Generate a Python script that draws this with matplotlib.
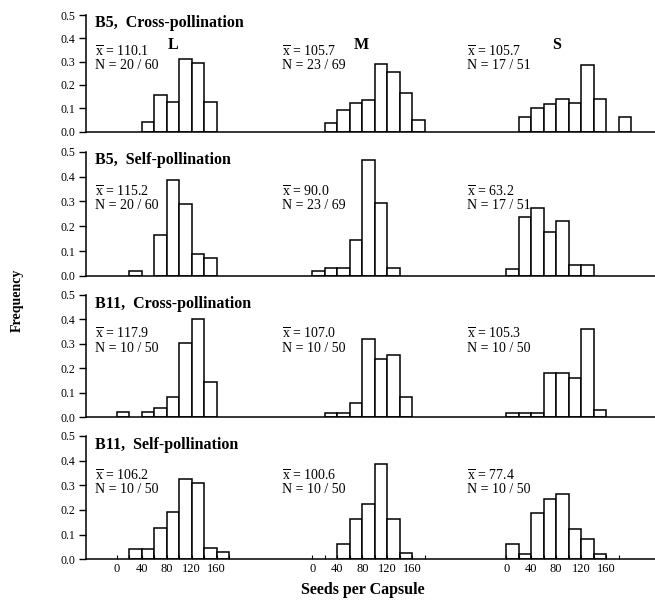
import numpy as np
import matplotlib
matplotlib.use("Agg")
import matplotlib.pyplot as plt

plt.rcParams['font.family'] = ['Liberation Serif', 'DejaVu Serif']
plt.rcParams['mathtext.fontset'] = 'custom'
plt.rcParams['mathtext.rm'] = 'Liberation Serif'
plt.rcParams['mathtext.it'] = 'Liberation Serif:italic'
plt.rcParams['mathtext.bf'] = 'Liberation Serif:bold'

# bins of 20 seeds: 0-20, 20-40, ..., 180-200
bin_left = np.arange(0, 200, 20)
bin_width = 20

groups = ["L", "M", "S"]
tick_values = [0, 40, 80, 120, 160]

row_titles = ["B5,  Cross-pollination", "B5,  Self-pollination",
              "B11,  Cross-pollination", "B11,  Self-pollination"]

b5_cross_L = [0, 0, 0.04, 0.155, 0.125, 0.31, 0.295, 0.125, 0, 0]
b5_cross_M = [0, 0.035, 0.093, 0.124, 0.136, 0.289, 0.257, 0.164, 0.05, 0]
b5_cross_S = [0, 0.061, 0.103, 0.119, 0.14, 0.121, 0.286, 0.14, 0, 0.061]

b5_self_L = [0, 0.02, 0, 0.165, 0.386, 0.288, 0.087, 0.071, 0, 0]
b5_self_M = [0.02, 0.034, 0.034, 0.145, 0.466, 0.292, 0.034, 0, 0, 0]
b5_self_S = [0.027, 0.237, 0.272, 0.177, 0.221, 0.044, 0.044, 0, 0, 0]

b11_cross_L = [0.02, 0, 0.02, 0.038, 0.083, 0.303, 0.402, 0.144, 0, 0]
b11_cross_M = [0, 0.018, 0.018, 0.058, 0.32, 0.239, 0.255, 0.083, 0, 0]
b11_cross_S = [0.018, 0.018, 0.018, 0.18, 0.18, 0.16, 0.361, 0.031, 0, 0]

b11_self_L = [0, 0.042, 0.042, 0.126, 0.19, 0.324, 0.308, 0.045, 0.028, 0]
b11_self_M = [0, 0, 0.062, 0.164, 0.223, 0.385, 0.164, 0.024, 0, 0]
b11_self_S = [0.062, 0.022, 0.186, 0.245, 0.264, 0.122, 0.081, 0.022, 0, 0]

freqs = [[b5_cross_L, b5_cross_M, b5_cross_S],
         [b5_self_L, b5_self_M, b5_self_S],
         [b11_cross_L, b11_cross_M, b11_cross_S],
         [b11_self_L, b11_self_M, b11_self_S]]

means = [["110.1", "105.7", "105.7"],
         ["115.2", "90.0", "63.2"],
         ["117.9", "107.0", "105.3"],
         ["106.2", "100.6", "77.4"]]
counts = [["20 / 60", "23 / 69", "17 / 51"],
          ["20 / 60", "23 / 69", "17 / 51"],
          ["10 / 50", "10 / 50", "10 / 50"],
          ["10 / 50", "10 / 50", "10 / 50"]]

W, H = 655, 602
fig = plt.figure(figsize=(W / 100, H / 100), dpi=100)

# the three histograms share one axis per row, shifted along x
offsets = [0, 313, 623]
stat_x = [-35, 265, 561]
label_x = [90, 392, 704]
# pixel rows: (y of 0.5, y of 0.0)
rows_px = [(15, 131.5), (151.7, 276), (295, 417.3), (436, 559.3)]
left_px = 86

for r, (ytop, ybot) in enumerate(rows_px):
    ax = fig.add_axes([left_px / W, 1 - ybot / H, (W - left_px) / W, (ybot - ytop) / H])
    for g in range(3):
        f = np.array(freqs[r][g])
        keep = f > 0
        ax.bar(bin_left[keep] + offsets[g], f[keep], width=bin_width, align='edge',
               facecolor='white', edgecolor='black', linewidth=1.1)
        ax.text(stat_x[g], 0.34, r'$\overline{\mathrm{x}}$ = ' + means[r][g],
                fontsize=10, va='center', ha='left')
        ax.text(stat_x[g], 0.283, 'N = ' + counts[r][g],
                fontsize=10, va='center', ha='left')
        if r == 0:
            ax.text(label_x[g], 0.37, groups[g], fontsize=11.5, fontweight='bold',
                    ha='center', va='center')
    ax.text(-35, 0.465, row_titles[r], fontsize=11.5, fontweight='bold',
            ha='left', va='center')

    ax.set_xlim(-49, 861)
    ax.set_ylim(0, 0.5)
    ax.set_yticks([0, 0.1, 0.2, 0.3, 0.4, 0.5])
    ax.set_yticklabels(['0.0', '0.1', '0.2', '0.3', '0.4', '0.5'], fontsize=8.5)
    ax.tick_params(axis='y', direction='out', length=5, width=1, pad=3)
    for s in ['top', 'right']:
        ax.spines[s].set_visible(False)
    ax.spines['left'].set_linewidth(1.1)
    ax.spines['bottom'].set_linewidth(1.1)
    ax.patch.set_visible(False)

    if r == 3:
        major = [t + o for o in offsets for t in tick_values]
        minor = [t + o for o in offsets for t in range(20, 200, 40)]
        ax.set_xticks(major)
        ax.set_xticklabels([str(t) for o in offsets for t in tick_values], fontsize=9)
        ax.set_xticks(minor, minor=True)
        ax.tick_params(axis='x', which='both', direction='in', length=3, width=0.8, pad=3)
    else:
        ax.set_xticks([])

fig.text(363 / W, 1 - 590 / H, 'Seeds per Capsule', fontsize=11.5, fontweight='bold',
         ha='center', va='center')
fig.text(17 / W, 1 - 300 / H, 'Frequency', fontsize=10, fontweight='bold',
         ha='center', va='center', rotation=90)

fig.savefig('out.png', dpi=100)
